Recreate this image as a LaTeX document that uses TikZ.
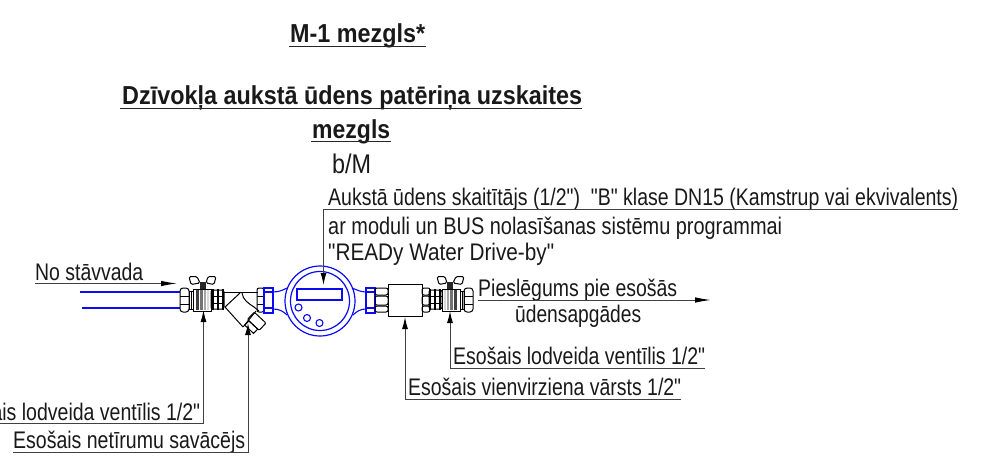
\documentclass[tikz,border=0pt]{standalone}
\usepackage{fontspec}
\usepackage{graphicx}
\setmainfont{Liberation Sans}
\newfontfamily\lib{Liberation Sans}
\usetikzlibrary{arrows.meta}
\newcommand{\fitw}[2]{\resizebox{#1pt}{\height}{#2}}
\definecolor{mblue}{RGB}{10,10,245}
\tikzset{
  lbl/.style={inner sep=0pt,anchor=base west,font=\lib\fontsize{24}{24}\selectfont,text=black!90},
  ttl/.style={inner sep=0pt,anchor=base west,font=\lib\fontsize{26}{26}\selectfont\bfseries,text=black!90},
  rule/.style={line width=1pt,black!85},
  leader/.style={line width=1pt,black!75,-{Latex[length=16pt,width=5.5pt,black]}},
  leaderup/.style={line width=1pt,black!75,-{Latex[length=12pt,width=6pt,black]}},
  part/.style={line width=1pt,black},
  bluepart/.style={line width=1.1pt,mblue},
  ballvalve/.pic={
    % handle
    \draw[part,rounded corners=1.5pt] (-14,-23.5) -- (-6,-23.5) -- (-3,-17) -- (-12,-15.5) -- cycle;
    \draw[part,rounded corners=1.5pt] (5,-23.5) -- (13,-23.5) -- (11,-15.5) -- (3,-17) -- cycle;
    \fill[black!85] (-3,-18) rectangle (3,-11);
    % end nut
    \draw[part,rounded corners=3pt] (-23,-12) rectangle (-14,12);
    \draw[part] (-23,-4) -- (-14,-4) (-23,4) -- (-14,4);
    \draw[part] (-14,-9) rectangle (-10,9);
    \draw[part] (-12,-9) -- (-12,9);
    % body
    \draw[part,fill=white] (-10,-11) rectangle (8,11);
    \fill[black!75] (-7,-10) rectangle (-4,10);
    \fill[black!55] (-3,-10) rectangle (0,10);
    \fill[black!35] (1,-10) rectangle (3,10);
    \fill[black!15] (4,-10) rectangle (6,10);
    % union
    \draw[part,rounded corners=2pt] (8,-10) rectangle (21,9);
    \draw[part] (8,-4) -- (21,-4) (8,3) -- (21,3);
    \draw[line width=1.3pt] (10,-11) -- (10,10) (15,-11) -- (15,10) (20,-11) -- (20,10);
  }
}
\begin{document}
\begin{tikzpicture}[x=1pt,y=-1pt]
\useasboundingbox (0,0) rectangle (998,463);
% titles
\node[ttl] (t1) at (290,42) {\fitw{135}{M-1 mezgls*}};
\draw[rule] (289,46.5) -- (426,46.5);
\node[ttl] (t2) at (122,104) {\fitw{460}{Dzīvokļa aukstā ūdens patēriņa uzskaites}};
\draw[rule] (120,108) -- (582,108);
\node[ttl] (t3) at (312,138) {\fitw{78}{mezgls}};
\draw[rule] (311,141.5) -- (391,141.5);
\node[lbl,font=\lib\fontsize{27}{27}\selectfont] (t4) at (332,173) {\fitw{39}{b/M}};
% meter label
\node[lbl] (m1) at (328,205) {\fitw{630}{Aukstā ūdens skaitītājs (1/2")\ \ "B" klase DN15 (Kamstrup vai ekvivalents)}};
\node[lbl] (m2) at (328,234) {\fitw{454}{ar moduli un BUS nolasīšanas sistēmu programmai}};
\node[lbl] (m3) at (328,260) {\fitw{226}{"READy Water Drive-by"}};
% pipes
\coordinate (p1a) at (80,292); \coordinate (p1b) at (180,292);
\coordinate (p2a) at (82,308); \coordinate (p2b) at (180,308);
\draw[bluepart] (p1a) -- (p1b) (p2a) -- (p2b);
% valves
\pic at (203,300) {ballvalve};
\pic[xscale=-1] at (450,300) {ballvalve};
% strainer
\draw[part] (224,292) -- (258,292);
\draw[part] (225,307) -- (240,293);
\draw[part] (242,293) .. controls (243,300) and (248,303) .. (254,307);
\draw[part] (254,307) -- (259,311);
\draw[part] (225,307) -- (243,327);
\draw[part] (243,327) -- (256,311);
\draw[part,rotate around={-43:(256,322)},rounded corners=1pt] (248,316) rectangle (264,326);
\draw[part,rotate around={-43:(256,322)}] (250,326) rectangle (262,332);
\draw[part,rounded corners=2pt] (257,288) rectangle (264,312);
\draw[part] (257,296) -- (264,296) (257,304) -- (264,304);
% meter
\node[draw=mblue,line width=1.2pt,circle,minimum size=70pt,inner sep=0pt] (mo) at (320,301) {};
\node[draw=mblue,line width=1.2pt,circle,minimum size=59pt,inner sep=0pt] (mi) at (320,301) {};
\node[draw=mblue,line width=1.2pt,minimum width=45pt,minimum height=11pt,inner sep=0pt] (disp) at (319.5,294.5) {};
\node[draw=mblue,line width=1.1pt,circle,minimum size=7pt,inner sep=0pt] (b1) at (298.5,307.5) {};
\node[draw=mblue,line width=1.1pt,circle,minimum size=7pt,inner sep=0pt] (b2) at (307,318) {};
\node[draw=mblue,line width=1.1pt,circle,minimum size=7pt,inner sep=0pt] (b3) at (319.5,323) {};
\draw[bluepart] (264,288) rectangle (273,313);
\draw[bluepart] (264,292) -- (273,292) (264,308) -- (273,308);
\draw[bluepart] (273,292) .. controls (279,292) and (283,290) .. (287,288);
\draw[bluepart] (273,309) .. controls (279,309) and (283,311) .. (287,315);
\draw[bluepart] (366,288) rectangle (375,313);
\draw[bluepart] (366,292) -- (375,292) (366,308) -- (375,308);
\draw[bluepart] (366,292) .. controls (361,292) and (357,290) .. (352,288);
\draw[bluepart] (366,309) .. controls (361,309) and (357,311) .. (353,315);
% check valve
\draw[part,rounded corners=2pt] (375,288) rectangle (388,295);
\draw[part,rounded corners=2pt] (375,296) rectangle (388,305);
\draw[part,rounded corners=2pt] (375,306) rectangle (388,312);
\node[draw=black,line width=1pt,minimum width=34pt,minimum height=32pt,inner sep=0pt] (cv) at (405,300) {};
\draw[part,rounded corners=2pt] (422,288) rectangle (430,295);
\draw[part,rounded corners=2pt] (422,296) rectangle (430,305);
\draw[part,rounded corners=2pt] (422,306) rectangle (430,312);
% left labels
\node[lbl] (nost) at (35,280) {\fitw{108}{No stāvvada}};
\coordinate (na) at (35,283.5); \coordinate (nb) at (177,283.5);
\draw[leader] (na) -- (nb);
\node[lbl] (lv1) at (-52,420) {\fitw{252}{Esošais lodveida ventīlis 1/2"}};
\coordinate (la) at (0,423.5); \coordinate (lb) at (203.5,423.5); \coordinate (lc) at (203.5,310);
\draw[leaderup] (la) -- (lb) -- (lc);
\node[lbl] (ns) at (13,448.5) {\fitw{232}{Esošais netīrumu savācējs}};
\coordinate (sa) at (13,452.5); \coordinate (sb) at (248,452.5); \coordinate (sc) at (248,323);
\draw[leaderup] (sa) -- (sb) -- (sc);
% meter leader
\coordinate (ma) at (958,209.5); \coordinate (mb) at (323.5,209.5); \coordinate (mc) at (323.5,285);
\draw[leaderup] (ma) -- (mb) -- (mc);
% right labels
\node[lbl] (pi1) at (478,296) {\fitw{199}{Pieslēgums pie esošās}};
\node[lbl] (pi2) at (515,322) {\fitw{126}{ūdensapgādes}};
\coordinate (pa) at (478,300); \coordinate (pb) at (711,300);
\draw[leader] (pa) -- (pb);
\node[lbl] (rv) at (453,364.5) {\fitw{252}{Esošais lodveida ventīlis 1/2"}};
\coordinate (ra) at (705,368.5); \coordinate (rb) at (450,368.5); \coordinate (rc) at (450,311);
\draw[leaderup] (ra) -- (rb) -- (rc);
\node[lbl] (cvl) at (408,395.5) {\fitw{273}{Esošais vienvirziena vārsts 1/2"}};
\coordinate (ca) at (681,399.5); \coordinate (cb) at (405,399.5); \coordinate (cc) at (405,317);
\draw[leaderup] (ca) -- (cb) -- (cc);
\end{tikzpicture}
\end{document}
